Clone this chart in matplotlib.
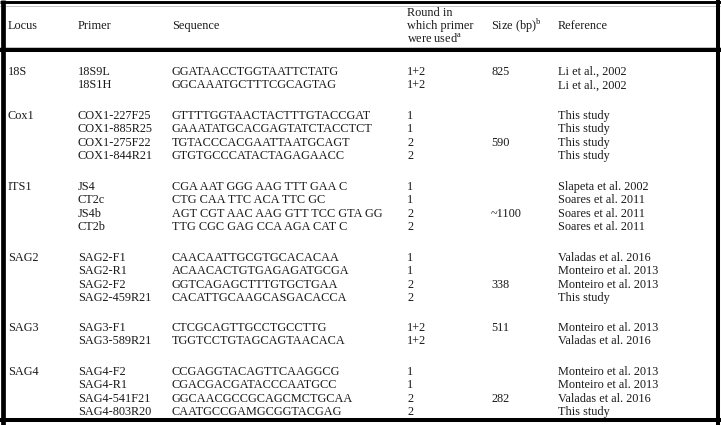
import matplotlib
matplotlib.use('Agg')
import matplotlib.pyplot as plt

plt.rcParams['font.family'] = 'Liberation Serif'
plt.rcParams['mathtext.fontset'] = 'custom'
plt.rcParams['mathtext.rm'] = 'Liberation Serif'

# table data
loci = ['18S', 'Cox1', 'ITS1', 'SAG2', 'SAG3', 'SAG4']
primers = [
    ['18S9L', '18S1H'],
    ['COX1-227F25', 'COX1-885R25', 'COX1-275F22', 'COX1-844R21'],
    ['JS4', 'CT2c', 'JS4b', 'CT2b'],
    ['SAG2-F1', 'SAG2-R1', 'SAG2-F2', 'SAG2-459R21'],
    ['SAG3-F1', 'SAG3-589R21'],
    ['SAG4-F2', 'SAG4-R1', 'SAG4-541F21', 'SAG4-803R20'],
]
sequences = [
    ['GGATAACCTGGTAATTCTATG', 'GGCAAATGCTTTCGCAGTAG'],
    ['GTTTTGGTAACTACTTTGTACCGAT', 'GAAATATGCACGAGTATCTACCTCT',
     'TGTACCCACGAATTAATGCAGT', 'GTGTGCCCATACTAGAGAACC'],
    ['CGA AAT GGG AAG TTT GAA C', 'CTG CAA TTC ACA TTC GC',
     'AGT CGT AAC AAG GTT TCC GTA GG', 'TTG CGC GAG CCA AGA CAT C'],
    ['CAACAATTGCGTGCACACAA', 'ACAACACTGTGAGAGATGCGA',
     'GGTCAGAGCTTTGTGCTGAA', 'CACATTGCAAGCASGACACCA'],
    ['CTCGCAGTTGCCTGCCTTG', 'TGGTCCTGTAGCAGTAACACA'],
    ['CCGAGGTACAGTTCAAGGCG', 'CGACGACGATACCCAATGCC',
     'GGCAACGCCGCAGCMCTGCAA', 'CAATGCCGAMGCGGTACGAG'],
]
rounds = [
    ['1+2', '1+2'],
    ['1', '1', '2', '2'],
    ['1', '1', '2', '2'],
    ['1', '1', '2', '2'],
    ['1+2', '1+2'],
    ['1', '1', '2', '2'],
]
sizes = [
    ['825', ''],
    ['', '', '590', ''],
    ['', '', '~1100', ''],
    ['', '', '338', ''],
    ['511', ''],
    ['', '', '282', ''],
]
refs = [
    ['Li et al., 2002', 'Li et al., 2002'],
    ['This study', 'This study', 'This study', 'This study'],
    ['Slapeta et al. 2002', 'Soares et al. 2011', 'Soares et al. 2011', 'Soares et al. 2011'],
    ['Valadas et al. 2016', 'Monteiro et al. 2013', 'Monteiro et al. 2013', 'This study'],
    ['Monteiro et al. 2013', 'Valadas et al. 2016'],
    ['Monteiro et al. 2013', 'Monteiro et al. 2013', 'Valadas et al. 2016', 'This study'],
]

W, H = 721, 425
fig = plt.figure(figsize=(W / 100, H / 100), dpi=100)
ax = fig.add_axes([0, 0, 1, 1])
ax.set_xlim(0, W)
ax.set_ylim(H, 0)
ax.axis('off')

fs = 8.8
col = '#1a1a1a'
xs = [8, 78, 172, 407, 491, 558]

# header
hy = 26
ax.text(xs[0], hy, 'Locus', fontsize=fs, color=col, va='center')
ax.text(xs[1], hy, 'Primer', fontsize=fs, color=col, va='center')
ax.text(xs[2], hy, 'Sequence', fontsize=fs, color=col, va='center')
ax.text(xs[3], 13, 'Round in', fontsize=fs, color=col, va='center')
ax.text(xs[3], 26, 'which primer', fontsize=fs, color=col, va='center')
ax.text(xs[3], 39, r'were used$^{\mathrm{a}}$', fontsize=fs, color=col, va='center')
ax.text(xs[4], hy, r'Size (bp)$^{\mathrm{b}}$', fontsize=fs, color=col, va='center')
ax.text(xs[5], hy, 'Reference', fontsize=fs, color=col, va='center')

# body rows
group_start = [72, 116, 187, 258, 328, 372]
step = 13.3
for g in range(len(loci)):
    y0 = group_start[g]
    ax.text(xs[0], y0, loci[g], fontsize=fs, color=col, va='center')
    for i in range(len(primers[g])):
        y = y0 + i * step
        ax.text(xs[1], y, primers[g][i], fontsize=fs, color=col, va='center')
        ax.text(xs[2], y, sequences[g][i], fontsize=fs, color=col, va='center')
        ax.text(xs[3], y, rounds[g][i], fontsize=fs, color=col, va='center')
        if sizes[g][i]:
            ax.text(xs[4], y, sizes[g][i], fontsize=fs, color=col, va='center')
        ax.text(xs[5], y, refs[g][i], fontsize=fs, color=col, va='center')

# borders
lw = 2.9
ax.plot([0, W], [2, 2], color='black', lw=lw - 0.8, solid_capstyle='butt')
ax.plot([0, W], [5.5, 5.5], color='#bbbbbb', lw=0.6)
ax.plot([0, W], [46.5, 46.5], color='#bbbbbb', lw=0.6)
ax.plot([0, W], [49.5, 49.5], color='black', lw=lw, solid_capstyle='butt')
ax.plot([2.5, 2.5], [0, H], color='black', lw=lw + 0.5, solid_capstyle='butt')
ax.plot([718, 718], [0, H], color='black', lw=lw, solid_capstyle='butt')
ax.plot([0, W], [420, 420], color='black', lw=lw, solid_capstyle='butt')

fig.savefig('out.png', dpi=100)
